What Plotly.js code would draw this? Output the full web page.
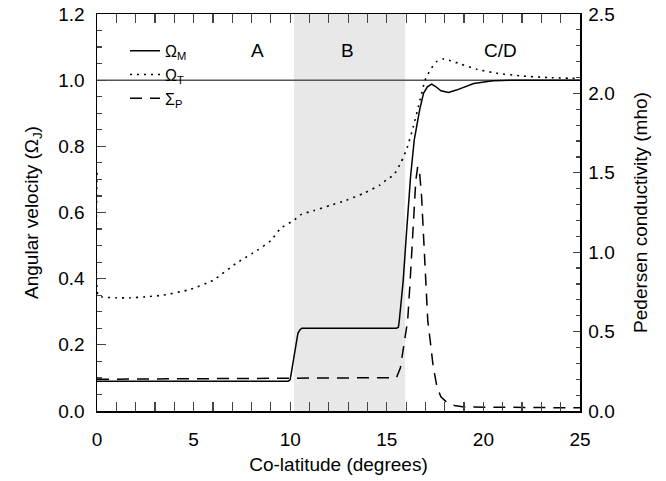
<!DOCTYPE html>
<html>
<head>
<meta charset="utf-8">
<script src="https://cdn.plot.ly/plotly-3.0.1.min.js"></script>
<style>html,body{margin:0;padding:0;background:#fff;}#chart{width:666px;height:481px;}</style>
</head>
<body>
<div id="chart"></div>
<script>
// Ω_M (solid, left axis)
const omegaM_x = [0, 9.9, 10.0, 10.1, 10.2, 10.3, 10.4, 10.5, 10.6, 15.5, 15.6, 15.65, 15.75, 15.85, 16.03, 16.23, 16.42, 16.55, 16.7, 16.9, 17.1, 17.32, 17.55, 17.8, 18.2, 18.6, 19.1, 19.5, 20.5, 21.5, 25];
const omegaM_y = [0.09, 0.09, 0.095, 0.13, 0.17, 0.21, 0.235, 0.245, 0.25, 0.25, 0.253, 0.275, 0.33, 0.395, 0.547, 0.708, 0.819, 0.86, 0.91, 0.96, 0.98, 0.988, 0.98, 0.968, 0.963, 0.97, 0.98, 0.99, 0.998, 1.0, 1.0];
// Ω_T (dotted, left axis)
const omegaT_x = [0, 0.05, 0.25, 1, 1.7, 2.5, 3.4, 4.8, 6.0, 7.2, 8.3, 9.0, 9.5, 10.2, 10.6, 11.2, 12.1, 12.9, 13.8, 14.65, 15.0, 15.35, 15.75, 16.05, 16.37, 16.72, 16.98, 17.24, 17.58, 17.9, 18.3, 18.8, 19.65, 20.7, 21.9, 23.3, 25];
const omegaT_y = [0.72, 0.35, 0.345, 0.342, 0.342, 0.345, 0.35, 0.367, 0.395, 0.446, 0.486, 0.515, 0.552, 0.577, 0.595, 0.605, 0.622, 0.637, 0.658, 0.683, 0.700, 0.713, 0.753, 0.795, 0.859, 0.94, 1.0, 1.03, 1.056, 1.064, 1.059, 1.049, 1.033, 1.021, 1.013, 1.008, 1.005];
// Σ_P (dashed, right axis, mho)
const sigmaP_x = [0, 15.5, 15.7, 15.9, 16.08, 16.2, 16.3, 16.4, 16.5, 16.6, 16.7, 16.8, 16.9, 17.0, 17.12, 17.25, 17.4, 17.6, 17.8, 18.1, 18.5, 19.0, 25];
const sigmaP_y = [0.2, 0.21, 0.27, 0.42, 0.57, 0.80, 1.0, 1.25, 1.45, 1.54, 1.5, 1.35, 1.1, 0.8, 0.57, 0.44, 0.28, 0.15, 0.09, 0.055, 0.035, 0.025, 0.02];
// Region labels
const regionLabels = ['A', 'B', 'C/D'];
const regionLabelX = [8.33, 12.99, 20.86];
const regionLabelY = 1.09;
const shadedRegion = [10.2, 15.95];

const FONT = 'Liberation Sans, Arial, sans-serif';

const traces = [
  {x: omegaM_x, y: omegaM_y, type: 'scatter', mode: 'lines', name: 'Ω<sub>M</sub>',
   line: {color: '#000', width: 1.5}, yaxis: 'y'},
  {x: omegaT_x, y: omegaT_y, type: 'scatter', mode: 'lines', name: 'Ω<sub>T</sub>',
   line: {color: '#000', width: 1.6, dash: '2px,5px', shape: 'spline', smoothing: 0.5}, yaxis: 'y'},
  {x: sigmaP_x, y: sigmaP_y, type: 'scatter', mode: 'lines', name: 'Σ<sub>P</sub>',
   line: {color: '#000', width: 1.5, dash: '12px,8px'}, yaxis: 'y2'}
];

const annotations = regionLabels.map((t, i) => ({
  x: regionLabelX[i], y: regionLabelY, xref: 'x', yref: 'y', text: t, showarrow: false,
  font: {family: FONT, size: 19, color: '#000'}
}));

const layout = {
  width: 666, height: 481, autosize: false,
  margin: {l: 97, r: 86, t: 14, b: 70, pad: 0},
  paper_bgcolor: '#fff', plot_bgcolor: '#fff',
  font: {family: FONT, size: 19, color: '#000'},
  showlegend: true,
  legend: {x: 0.058, y: 0.95, xanchor: 'left', yanchor: 'top', bgcolor: 'rgba(0,0,0,0)',
           font: {family: FONT, size: 16}, tracegroupgap: 0},
  xaxis: {range: [0, 25], dtick: 5, tick0: 0, ticks: 'inside', ticklen: 9, tickwidth: 1.2,
          minor: {dtick: 1, ticks: 'inside', ticklen: 5, tickwidth: 1.2},
          showline: true, linecolor: '#000', linewidth: 1.5, mirror: 'allticks',
          showgrid: false, zeroline: false, tickfont: {size: 19}, ticklabelstandoff: 11,
          title: {text: 'Co-latitude (degrees)', font: {size: 19}, standoff: 8}},
  yaxis: {range: [0, 1.2], dtick: 0.2, tick0: 0, tickformat: '.1f', ticks: 'inside', ticklen: 9, tickwidth: 1.2,
          minor: {dtick: 0.05, ticks: 'inside', ticklen: 5, tickwidth: 1.2},
          showline: true, linecolor: '#000', linewidth: 1.5, mirror: false,
          showgrid: false, zeroline: false, tickfont: {size: 19}, ticklabelstandoff: 7,
          title: {text: 'Angular velocity (Ω<sub>J</sub>)', font: {size: 19}, standoff: 14}},
  yaxis2: {range: [0, 2.5], dtick: 0.5, tick0: 0, tickformat: '.1f', ticks: 'inside', ticklen: 7, tickwidth: 1.2,
           minor: {dtick: 0.1, ticks: 'inside', ticklen: 4, tickwidth: 1.2},
           overlaying: 'y', side: 'right', anchor: 'x',
           showline: true, linecolor: '#000', linewidth: 1.5,
           showgrid: false, zeroline: false, tickfont: {size: 19}, ticklabelstandoff: 3,
           title: {text: 'Pedersen conductivity (mho)', font: {size: 19}, standoff: 20}},
  shapes: [
    {type: 'rect', xref: 'x', yref: 'paper', x0: shadedRegion[0], x1: shadedRegion[1], y0: 0, y1: 1,
     fillcolor: '#e8e8e8', line: {width: 0}, layer: 'below'},
    {type: 'line', xref: 'paper', yref: 'y', x0: 0, x1: 1, y0: 1.0, y1: 1.0,
     line: {color: '#555', width: 1.5}, layer: 'below'}
  ],
  annotations: annotations
};

Plotly.newPlot('chart', traces, layout, {displayModeBar: false, staticPlot: true});
</script>
</body>
</html>
